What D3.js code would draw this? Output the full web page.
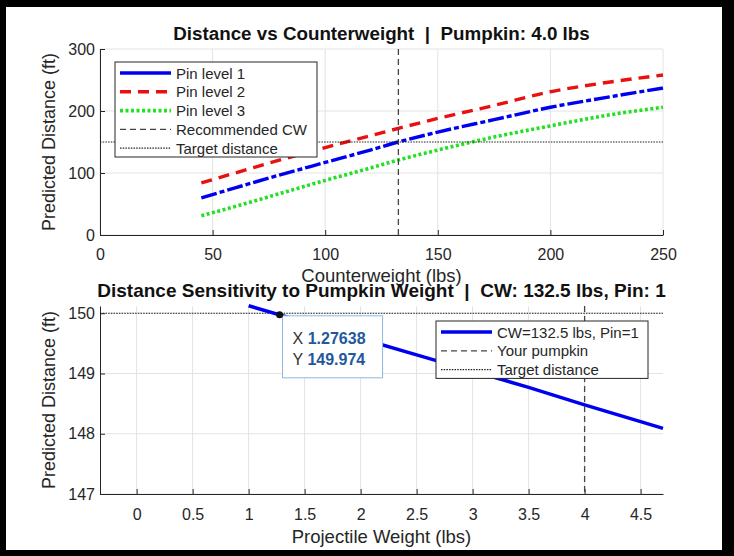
<!DOCTYPE html>
<html>
<head>
<meta charset="utf-8">
<script src="https://cdnjs.cloudflare.com/ajax/libs/d3/7.8.5/d3.min.js"></script>
<style>
  body { margin: 0; background: #000; }
  svg text { font-family: "Liberation Sans", Arial, Helvetica, sans-serif; fill: #262626; }
  .title { font-weight: bold; white-space: pre; fill: #111; }
</style>
</head>
<body>
<svg id="chart" width="734" height="556"></svg>
<script>
// Top panel data: distance vs counterweight per pin level
var cwValues = [45, 60, 80, 100, 120, 132.5, 150, 175, 200, 225, 250];
var pin1Dist = [60, 76, 97, 117, 137, 150, 166, 186, 206, 222, 237];
var pin2Dist = [84, 100, 121, 141, 160, 172, 188, 209, 231, 246, 258];
var pin3Dist = [31, 46, 67, 88, 108, 121, 137, 158, 176, 193, 206];
var cwTicks = [0, 50, 100, 150, 200, 250];
var distTicks = [0, 100, 200, 300];
var recommendedCW = 132.5;
var targetDistance = 150;

// Bottom panel data: sensitivity to pumpkin weight
var pumpkinWeights = [1.0, 1.5, 2.0, 2.5, 3.0, 3.5, 4.0, 4.5, 4.7];
var sensDist = [150.124, 149.852, 149.58, 149.31, 149.04, 148.77, 148.48, 148.2, 148.09];
var weightTicks = [0, 0.5, 1, 1.5, 2, 2.5, 3, 3.5, 4, 4.5];
var sensTicks = [147, 148, 149, 150];
var yourPumpkin = 4.0;
var tipX = 1.27638, tipY = 149.974;

var svg = d3.select("#chart");

// black frame + white figure
svg.append("rect").attr("x", 0).attr("y", 0).attr("width", 734).attr("height", 556).attr("fill", "#000");
svg.append("rect").attr("x", 6).attr("y", 7).attr("width", 716).attr("height", 543).attr("fill", "#fff");

var axisColor = "#262626", gridColor = "#e3e3e3";
var plainFmt = function (d) { return String(d); };

function drawAxes(g, x, y, xTicks, yTicks, padX) {
    var x0 = x.range()[0], x1 = x.range()[1];
    var yb = y.range()[0], yt = y.range()[1];
    // grid
    g.append("g").selectAll("line").data(xTicks).enter().append("line")
        .attr("x1", function (d) { return x(d); }).attr("x2", function (d) { return x(d); })
        .attr("y1", yt).attr("y2", yb).attr("stroke", gridColor);
    g.append("g").selectAll("line").data(yTicks).enter().append("line")
        .attr("x1", x0).attr("x2", x1)
        .attr("y1", function (d) { return y(d); }).attr("y2", function (d) { return y(d); })
        .attr("stroke", gridColor);
    // axes with inward ticks
    var ax = g.append("g").attr("transform", "translate(0," + yb + ")")
        .call(d3.axisBottom(x).tickValues(xTicks).tickSizeInner(-5).tickSizeOuter(0).tickPadding(padX).tickFormat(plainFmt));
    var ay = g.append("g").attr("transform", "translate(" + x0 + ",0)")
        .call(d3.axisLeft(y).tickValues(yTicks).tickSizeInner(-5).tickSizeOuter(0).tickPadding(5).tickFormat(plainFmt));
    [ax, ay].forEach(function (a) {
        a.select(".domain").attr("stroke", axisColor);
        a.selectAll(".tick line").attr("stroke", axisColor);
        a.selectAll(".tick text").attr("font-size", 16).attr("fill", axisColor)
            .style("font-family", "'Liberation Sans', Arial, sans-serif");
    });
}

function legend(g, x, y, w, rows) {
    var h = rows.length * 18.8 + 1;
    g.append("rect").attr("x", x).attr("y", y).attr("width", w).attr("height", h)
        .attr("fill", "#fff").attr("stroke", "#262626").attr("stroke-width", 1);
    rows.forEach(function (r, i) {
        var cy = y + 11 + i * 18.8;
        g.append("line").attr("x1", x + 5).attr("x2", x + 56).attr("y1", cy).attr("y2", cy)
            .attr("stroke", r.color).attr("stroke-width", r.width).attr("stroke-dasharray", r.dash);
        g.append("text").attr("x", x + 61).attr("y", cy + 5.5).attr("font-size", 15).text(r.label);
    });
}

// ---------- Top panel ----------
var xTop = d3.scaleLinear().domain([0, 250]).range([100, 663]);
var yTop = d3.scaleLinear().domain([0, 300]).range([235, 49]);
var gTop = svg.append("g");
drawAxes(gTop, xTop, yTop, cwTicks, distTicks, 14);

var lineTop = d3.line().curve(d3.curveMonotoneX)
    .x(function (d, i) { return xTop(cwValues[i]); })
    .y(function (d) { return yTop(d); });

gTop.append("path").datum(pin1Dist).attr("d", lineTop).attr("fill", "none")
    .attr("stroke", "#0000f0").attr("stroke-width", 3.4).attr("stroke-dasharray", "16,3,5,3");
gTop.append("path").datum(pin2Dist).attr("d", lineTop).attr("fill", "none")
    .attr("stroke", "#e81010").attr("stroke-width", 3.4).attr("stroke-dasharray", "11,7");
gTop.append("path").datum(pin3Dist).attr("d", lineTop).attr("fill", "none")
    .attr("stroke", "#22e022").attr("stroke-width", 3.6).attr("stroke-dasharray", "3,2.5");

gTop.append("line").attr("x1", xTop(recommendedCW)).attr("x2", xTop(recommendedCW))
    .attr("y1", yTop(300)).attr("y2", yTop(0))
    .attr("stroke", "#444").attr("stroke-width", 1.3).attr("stroke-dasharray", "6,4");
gTop.append("line").attr("x1", xTop(0)).attr("x2", xTop(250))
    .attr("y1", yTop(targetDistance)).attr("y2", yTop(targetDistance))
    .attr("stroke", "#222").attr("stroke-width", 1.2).attr("stroke-dasharray", "1.5,1.2");

legend(gTop, 115, 62, 202, [
    { label: "Pin level 1", color: "#0000f0", width: 3.4, dash: null },
    { label: "Pin level 2", color: "#e81010", width: 3.4, dash: "11,7" },
    { label: "Pin level 3", color: "#22e022", width: 3.6, dash: "3,2.5" },
    { label: "Recommended CW", color: "#444", width: 1.3, dash: "6,4" },
    { label: "Target distance", color: "#222", width: 1.2, dash: "1.5,1.2" }
]);

svg.append("text").attr("class", "title").attr("x", 381.5).attr("y", 40)
    .attr("text-anchor", "middle").attr("font-size", 18.8)
    .text("Distance vs Counterweight  |  Pumpkin: 4.0 lbs");
svg.append("text").attr("x", 381.5).attr("y", 282).attr("text-anchor", "middle")
    .attr("font-size", 18.5).text("Counterweight (lbs)");
svg.append("text").attr("transform", "translate(55,142) rotate(-90)").attr("text-anchor", "middle")
    .attr("font-size", 18).text("Predicted Distance (ft)");

// ---------- Bottom panel ----------
var xBot = d3.scaleLinear().domain([-0.327, 4.7]).range([100, 663]);
var yBot = d3.scaleLinear().domain([147, 150.12]).range([494, 306]);
var gBot = svg.append("g");
drawAxes(gBot, xBot, yBot, weightTicks, sensTicks, 15);

var lineBot = d3.line()
    .x(function (d, i) { return xBot(pumpkinWeights[i]); })
    .y(function (d) { return yBot(d); });

gBot.append("line").attr("x1", xBot(-0.327)).attr("x2", xBot(4.7))
    .attr("y1", yBot(targetDistance)).attr("y2", yBot(targetDistance))
    .attr("stroke", "#222").attr("stroke-width", 1.2).attr("stroke-dasharray", "1.5,1.2");
gBot.append("path").datum(sensDist).attr("d", lineBot).attr("fill", "none")
    .attr("stroke", "#0000f0").attr("stroke-width", 3.5);
gBot.append("line").attr("x1", xBot(yourPumpkin)).attr("x2", xBot(yourPumpkin))
    .attr("y1", yBot(150.12)).attr("y2", yBot(147))
    .attr("stroke", "#444").attr("stroke-width", 1.3).attr("stroke-dasharray", "6,4");

legend(gBot, 436, 321, 212, [
    { label: "CW=132.5 lbs, Pin=1", color: "#0000f0", width: 3.5, dash: null },
    { label: "Your pumpkin", color: "#444", width: 1.3, dash: "6,4" },
    { label: "Target distance", color: "#222", width: 1.2, dash: "1.5,1.2" }
]);

// data tip
var px = xBot(tipX), py = yBot(tipY);
gBot.append("rect").attr("x", px + 3).attr("y", py + 1).attr("width", 100).attr("height", 62)
    .attr("fill", "#fff").attr("stroke", "#8ab8e0").attr("stroke-width", 1);
gBot.append("circle").attr("cx", px).attr("cy", py).attr("r", 3.5).attr("fill", "#111");
var tipRows = [["X ", tipX], ["Y ", tipY]];
tipRows.forEach(function (r, i) {
    var t = gBot.append("text").attr("x", px + 13).attr("y", py + 29 + i * 21).attr("font-size", 16)
        .style("white-space", "pre");
    t.append("tspan").attr("fill", "#333").text(r[0]);
    t.append("tspan").attr("fill", "#24589c").attr("font-weight", "bold").text(r[1]);
});

svg.append("text").attr("class", "title").attr("x", 381.5).attr("y", 297)
    .attr("text-anchor", "middle").attr("font-size", 19)
    .text("Distance Sensitivity to Pumpkin Weight  |  CW: 132.5 lbs, Pin: 1");
svg.append("text").attr("x", 381.5).attr("y", 543).attr("text-anchor", "middle")
    .attr("font-size", 18.5).text("Projectile Weight (lbs)");
svg.append("text").attr("transform", "translate(55,400) rotate(-90)").attr("text-anchor", "middle")
    .attr("font-size", 18).text("Predicted Distance (ft)");
</script>
</body>
</html>
